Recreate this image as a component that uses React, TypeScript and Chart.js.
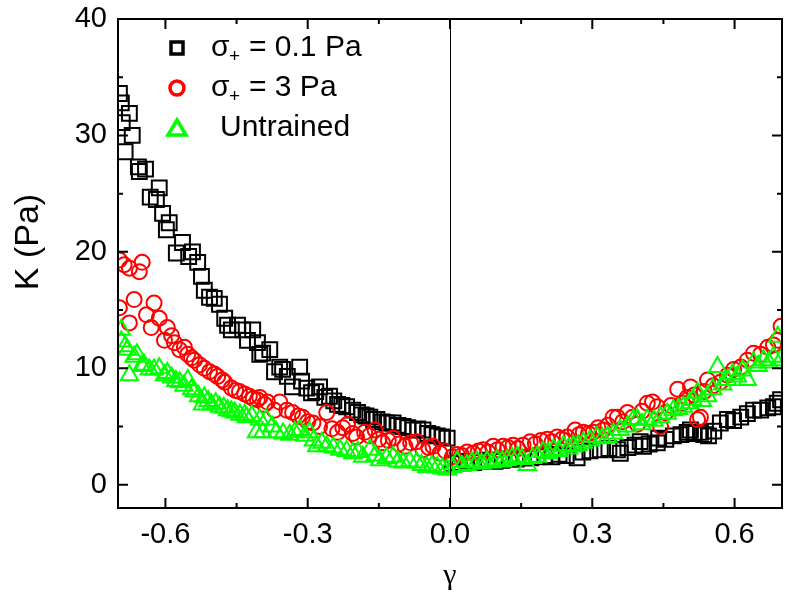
import React, { useEffect, useRef } from 'react';
import { Chart, registerables } from 'chart.js';

Chart.register(...registerables);

// Axis ticks
const xTicks = [-0.6, -0.3, 0, 0.3, 0.6];
const xMinorTicks = [-0.45, -0.15, 0.15, 0.45];
const yTicks = [0, 10, 20, 30, 40];
const yMinorTicks = [5, 15, 25, 35];

// sigma+ = 0.1 Pa (black squares)
const gammaSigma01 = [
  -0.697, -0.693, -0.691, -0.685, -0.676, -0.670, -0.657, -0.655, -0.642, -0.632,
  -0.619, -0.613, -0.606, -0.598, -0.592, -0.577, -0.564, -0.551, -0.543, -0.532,
  -0.524, -0.518, -0.507, -0.497, -0.486, -0.475, -0.469, -0.461, -0.448, -0.437,
  -0.427, -0.416, -0.406, -0.401, -0.395, -0.380, -0.370, -0.359, -0.353, -0.343,
  -0.332, -0.317, -0.313, -0.302, -0.292, -0.283, -0.275, -0.264, -0.254, -0.245,
  -0.237, -0.228, -0.218, -0.205, -0.195, -0.186, -0.177, -0.169, -0.161, -0.154,
  -0.143, -0.133, -0.120, -0.110, -0.099, -0.089, -0.078, -0.068, -0.057, -0.047,
  -0.038, -0.027, -0.017, -0.006,
  0.005, 0.020, 0.035, 0.050, 0.065, 0.080, 0.095, 0.110, 0.125, 0.140,
  0.155, 0.170, 0.185, 0.200, 0.215, 0.230, 0.245, 0.268, 0.280, 0.295,
  0.317, 0.335, 0.353, 0.359, 0.375, 0.390, 0.401, 0.408, 0.420, 0.437,
  0.440, 0.455, 0.471, 0.487, 0.500, 0.507, 0.515, 0.528, 0.535, 0.545,
  0.556, 0.570, 0.585, 0.598, 0.613, 0.627, 0.640, 0.655, 0.670, 0.682,
  0.690, 0.697,
];
const kSigma01 = [
  33.6, 32.8, 31.1, 28.6, 31.9, 30.0, 27.3, 26.9, 27.1, 24.7,
  24.5, 25.5, 23.3, 21.9, 22.5, 19.9, 20.8, 19.6, 20.0, 19.1,
  17.9, 16.7, 16.1, 16.0, 15.5, 14.3, 13.7, 13.3, 13.7, 13.3,
  12.4, 13.3, 12.2, 11.2, 11.3, 11.6, 9.7, 10.1, 9.9, 9.3,
  8.4, 10.1, 8.9, 8.3, 7.9, 8.0, 8.4, 7.5, 7.6, 7.2,
  6.9, 6.8, 6.7, 6.4, 6.2, 6.0, 5.9, 5.8, 5.6, 5.6,
  5.4, 5.3, 5.3, 5.1, 5.0, 4.9, 4.7, 4.8, 4.7, 4.4,
  4.3, 4.2, 4.1, 4.0,
  1.8, 1.9, 2.0, 1.9, 2.0, 2.1, 2.0, 2.1, 2.2, 2.2,
  2.3, 2.3, 2.4, 2.5, 2.4, 2.6, 2.5, 2.3, 2.8, 2.9,
  3.0, 3.1, 3.0, 2.7, 3.2, 3.4, 3.7, 3.3, 3.5, 3.6,
  4.0, 3.9, 4.2, 4.3, 4.5, 4.7, 4.4, 4.5, 4.3, 4.2,
  4.6, 5.3, 5.6, 5.5, 5.8, 6.1, 6.4, 6.4, 6.6, 6.7,
  7.0, 7.3,
];

// sigma+ = 3 Pa (red circles)
const gammaSigma3 = [
  -0.697, -0.697, -0.687, -0.676, -0.676, -0.666, -0.655, -0.649, -0.640, -0.630,
  -0.624, -0.613, -0.602, -0.596, -0.587, -0.581, -0.570, -0.560, -0.553, -0.545,
  -0.539, -0.528, -0.518, -0.507, -0.497, -0.490, -0.480, -0.475, -0.461, -0.452,
  -0.444, -0.433, -0.423, -0.415, -0.406, -0.401, -0.391, -0.385, -0.370, -0.359,
  -0.344, -0.332, -0.320, -0.311, -0.300, -0.289, -0.275, -0.260, -0.249, -0.237,
  -0.226, -0.216, -0.205, -0.197, -0.180, -0.170, -0.158, -0.150, -0.142, -0.130,
  -0.120, -0.108, -0.095, -0.083, -0.070, -0.057, -0.045, -0.036, -0.021, -0.010,
  0.005, 0.015, 0.025, 0.036, 0.049, 0.060, 0.070, 0.080, 0.091, 0.100,
  0.112, 0.122, 0.133, 0.143, 0.154, 0.169, 0.180, 0.192, 0.205, 0.215,
  0.226, 0.236, 0.247, 0.264, 0.272, 0.281, 0.292, 0.302, 0.312, 0.323,
  0.333, 0.344, 0.353, 0.364, 0.374, 0.385, 0.395, 0.405, 0.416, 0.427,
  0.437, 0.444, 0.455, 0.466, 0.480, 0.490, 0.500, 0.507, 0.515, 0.522,
  0.528, 0.536, 0.543, 0.555, 0.570, 0.585, 0.598, 0.613, 0.627, 0.640,
  0.655, 0.670, 0.682, 0.691, 0.698,
];
const kSigma3 = [
  19.3, 15.2, 18.9, 18.6, 13.9, 15.9, 18.3, 19.1, 14.6, 13.5,
  15.6, 14.3, 12.4, 13.5, 12.8, 12.2, 11.6, 11.8, 11.2, 10.9,
  10.7, 10.3, 10.0, 9.7, 9.5, 9.3, 9.0, 8.8, 8.3, 8.1,
  8.0, 7.8, 7.6, 7.4, 7.3, 7.5, 6.9, 7.1, 6.4, 7.1,
  6.4, 6.2, 5.9, 5.8, 5.4, 5.3, 5.0, 6.2, 4.8, 4.5,
  4.9, 5.2, 4.4, 4.1, 4.5, 4.2, 4.7, 3.9, 3.6, 3.8,
  4.0, 3.5, 3.3, 3.6, 3.7, 3.0, 3.2, 3.3, 2.7, 2.9,
  2.4, 2.6, 2.5, 2.8, 2.7, 2.9, 3.0, 2.8, 3.3, 3.0,
  3.3, 3.2, 3.4, 3.1, 3.4, 3.7, 3.5, 3.8, 3.9, 3.7,
  4.1, 3.9, 4.1, 4.7, 4.3, 4.5, 4.4, 4.5, 4.9, 4.7,
  5.1, 5.8, 5.8, 5.4, 6.2, 5.8, 5.2, 6.3, 7.0, 7.1,
  6.7, 5.0, 6.2, 6.8, 8.2, 7.0, 7.5, 8.4, 7.7, 5.6,
  5.8, 8.0, 9.0, 8.5, 8.8, 9.4, 9.9, 10.1, 10.7, 11.3,
  11.2, 11.8, 12.0, 12.4, 13.6,
];

// Untrained (green triangles)
const gammaUntrained = [
  -0.693, -0.693, -0.685, -0.680, -0.676, -0.666, -0.660, -0.650, -0.645, -0.634,
  -0.624, -0.613, -0.602, -0.596, -0.587, -0.578, -0.570, -0.561, -0.553, -0.545,
  -0.539, -0.530, -0.522, -0.518, -0.510, -0.503, -0.494, -0.486, -0.477, -0.469,
  -0.461, -0.454, -0.443, -0.433, -0.429, -0.418, -0.408, -0.401, -0.395, -0.387,
  -0.375, -0.366, -0.352, -0.338, -0.327, -0.317, -0.306, -0.296, -0.288, -0.281,
  -0.270, -0.260, -0.246, -0.232, -0.218, -0.205, -0.194, -0.184, -0.169, -0.158,
  -0.148, -0.134, -0.120, -0.110, -0.099, -0.085, -0.070, -0.060, -0.049, -0.038,
  -0.027, -0.016, -0.006,
  0.005, 0.015, 0.025, 0.036, 0.046, 0.057, 0.067, 0.078, 0.089, 0.099,
  0.110, 0.120, 0.131, 0.142, 0.152, 0.163, 0.174, 0.184, 0.196, 0.207,
  0.218, 0.229, 0.239, 0.250, 0.260, 0.270, 0.281, 0.295, 0.310, 0.321,
  0.332, 0.345, 0.359, 0.374, 0.387, 0.395, 0.405, 0.416, 0.430, 0.444,
  0.458, 0.471, 0.482, 0.492, 0.505, 0.512, 0.522, 0.532, 0.543, 0.554,
  0.564, 0.575, 0.585, 0.596, 0.606, 0.617, 0.627, 0.640, 0.650, 0.661,
  0.672, 0.682, 0.691, 0.697,
];
const kUntrained = [
  13.3, 12.3, 11.9, 11.6, 9.4, 11.0, 11.2, 10.2, 10.3, 9.9,
  9.9, 10.0, 9.4, 9.6, 9.2, 8.9, 8.8, 8.5, 9.0, 8.2,
  8.0, 7.6, 6.9, 7.5, 7.2, 6.9, 7.0, 6.7, 6.6, 6.4,
  6.3, 6.2, 6.0, 6.0, 5.8, 5.9, 4.5, 5.6, 4.5, 5.6,
  5.0, 4.5, 4.4, 4.3, 4.5, 4.7, 4.2, 4.5, 3.8, 3.3,
  3.6, 3.3, 3.2, 3.0, 2.9, 2.7, 2.8, 2.4, 3.0, 2.5,
  2.1, 2.3, 2.4, 2.0, 1.9, 2.0, 1.9, 1.7, 1.5, 1.6,
  1.5, 1.4, 1.3,
  1.5, 2.0, 1.6, 1.7, 1.9, 2.0, 1.8, 2.0, 1.9, 2.1,
  2.0, 2.1, 2.3, 2.4, 2.2, 1.7, 2.3, 2.4, 2.8, 2.7,
  3.0, 2.9, 3.3, 3.1, 3.3, 3.4, 3.6, 3.8, 4.1, 4.0,
  4.1, 4.4, 4.7, 5.0, 5.6, 5.6, 5.2, 5.6, 5.5, 5.8,
  6.1, 6.4, 6.5, 6.7, 7.0, 7.3, 7.9, 7.2, 7.6, 8.2,
  10.1, 8.6, 9.0, 9.5, 9.3, 9.8, 9.0, 10.5, 10.2, 10.7,
  10.5, 11.0, 12.7, 10.7,
];

const FONT = '"Liberation Sans", Arial, sans-serif';

const toPoints = (xs: number[], ys: number[]) => xs.map((x, i) => ({ x, y: ys[i] }));

// Inward ticks, frame, zero line, legend and axis titles
const decorPlugin = {
  id: 'decor',
  afterDatasetsDraw(chart: any) {
    const { ctx, chartArea, scales } = chart;
    const { left, top, right, bottom } = chartArea;
    const xs = scales.x;
    const ys = scales.y;
    ctx.save();
    ctx.strokeStyle = '#000';

    // vertical line at gamma = 0
    const x0 = Math.round(xs.getPixelForValue(0)) + 0.5;
    ctx.lineWidth = 1;
    ctx.beginPath();
    ctx.moveTo(x0, top);
    ctx.lineTo(x0, bottom);
    ctx.stroke();

    ctx.lineWidth = 2;
    ctx.beginPath();
    const tick = (vals: number[], len: number) => {
      vals.forEach((v) => {
        const px = xs.getPixelForValue(v);
        ctx.moveTo(px, bottom);
        ctx.lineTo(px, bottom - len);
        ctx.moveTo(px, top);
        ctx.lineTo(px, top + len);
      });
    };
    const ytick = (vals: number[], len: number) => {
      vals.forEach((v) => {
        const py = ys.getPixelForValue(v);
        ctx.moveTo(left, py);
        ctx.lineTo(left + len, py);
        ctx.moveTo(right, py);
        ctx.lineTo(right - len, py);
      });
    };
    tick(xTicks, 10);
    tick(xMinorTicks, 5);
    ytick(yTicks, 10);
    ytick(yMinorTicks, 5);
    ctx.stroke();

    ctx.strokeRect(left, top, right - left, bottom - top);
    ctx.restore();
  },
  afterDraw(chart: any) {
    const { ctx } = chart;
    ctx.save();

    // legend
    const mx = 177;
    const rows = [48, 88, 128];
    ctx.lineWidth = 3.5;
    ctx.strokeStyle = '#000';
    ctx.strokeRect(mx - 6, rows[0] - 6, 12, 12);
    ctx.strokeStyle = '#ff0000';
    ctx.beginPath();
    ctx.arc(mx, rows[1], 7, 0, Math.PI * 2);
    ctx.stroke();
    ctx.strokeStyle = '#00ff00';
    ctx.lineJoin = 'miter';
    ctx.beginPath();
    ctx.moveTo(mx, rows[2] - 8);
    ctx.lineTo(mx + 9, rows[2] + 7);
    ctx.lineTo(mx - 9, rows[2] + 7);
    ctx.closePath();
    ctx.stroke();

    ctx.fillStyle = '#000';
    ctx.textBaseline = 'middle';
    ctx.textAlign = 'left';
    const sigmaRow = (y: number, rest: string) => {
      ctx.font = `30px ${FONT}`;
      ctx.fillText('σ', 211, y);
      ctx.font = `19px ${FONT}`;
      ctx.fillText('+', 229, y + 9);
      ctx.font = `30px ${FONT}`;
      ctx.fillText(rest, 249, y);
    };
    sigmaRow(rows[0], '= 0.1 Pa');
    sigmaRow(rows[1], '= 3 Pa');
    ctx.font = `30px ${FONT}`;
    ctx.fillText('Untrained', 220, rows[2]);

    // axis titles
    ctx.textAlign = 'center';
    ctx.font = `34px ${FONT}`;
    ctx.save();
    ctx.translate(29, 242);
    ctx.rotate(-Math.PI / 2);
    ctx.fillText('K (Pa)', 0, 0);
    ctx.restore();

    ctx.font = `30px "Liberation Serif", "Times New Roman", serif`;
    ctx.fillText('γ', 450, 576);
    ctx.restore();
  },
};

export default function App() {
  const canvasRef = useRef<HTMLCanvasElement | null>(null);

  useEffect(() => {
    if (!canvasRef.current) return;
    const chart = new Chart(canvasRef.current, {
      type: 'scatter',
      data: {
        datasets: [
          {
            label: 'σ+ = 0.1 Pa',
            data: toPoints(gammaSigma01, kSigma01),
            pointStyle: 'rect',
            pointRadius: 10.5,
            borderColor: '#000000',
            backgroundColor: 'rgba(0,0,0,0)',
            pointBorderWidth: 2,
            order: 3,
          },
          {
            label: 'σ+ = 3 Pa',
            data: toPoints(gammaSigma3, kSigma3),
            pointStyle: 'circle',
            pointRadius: 7.5,
            borderColor: '#ff0000',
            backgroundColor: 'rgba(0,0,0,0)',
            pointBorderWidth: 2,
            order: 2,
          },
          {
            label: 'Untrained',
            data: toPoints(gammaUntrained, kUntrained),
            pointStyle: 'triangle',
            pointRadius: 10,
            borderColor: '#00ff00',
            backgroundColor: 'rgba(0,0,0,0)',
            pointBorderWidth: 2,
            order: 1,
          },
        ],
      },
      options: {
        responsive: false,
        animation: false,
        events: [],
        layout: { padding: { top: 19, right: 25, left: 0, bottom: 0 } },
        plugins: {
          legend: { display: false },
          tooltip: { enabled: false },
        },
        scales: {
          x: {
            type: 'linear',
            min: -0.7,
            max: 0.7,
            grid: { display: false, drawTicks: false },
            border: { display: false },
            afterBuildTicks: (scale: any) => {
              scale.ticks = xTicks.map((v) => ({ value: v }));
            },
            afterFit: (scale: any) => {
              scale.height = 92;
              scale.paddingLeft = 0;
              scale.paddingRight = 0;
            },
            ticks: {
              color: '#000',
              padding: 10,
              maxRotation: 0,
              autoSkip: false,
              font: { family: FONT, size: 29 },
              callback: (v: any) => Number(v).toFixed(1),
            },
          },
          y: {
            type: 'linear',
            min: -2,
            max: 40,
            grid: { display: false, drawTicks: false },
            border: { display: false },
            afterBuildTicks: (scale: any) => {
              scale.ticks = yTicks.map((v) => ({ value: v }));
            },
            afterFit: (scale: any) => {
              scale.width = 118;
              scale.paddingTop = 0;
              scale.paddingBottom = 0;
            },
            ticks: {
              color: '#000',
              padding: 11,
              autoSkip: false,
              font: { family: FONT, size: 29 },
              callback: (v: any) => String(v),
            },
          },
        },
      },
      plugins: [decorPlugin],
    });
    return () => chart.destroy();
  }, []);

  return (
    <div style={{ position: 'absolute', left: 0, top: 0, width: 807, height: 600, background: '#fff' }}>
      <canvas ref={canvasRef} width={807} height={600} style={{ display: 'block' }} />
    </div>
  );
}
